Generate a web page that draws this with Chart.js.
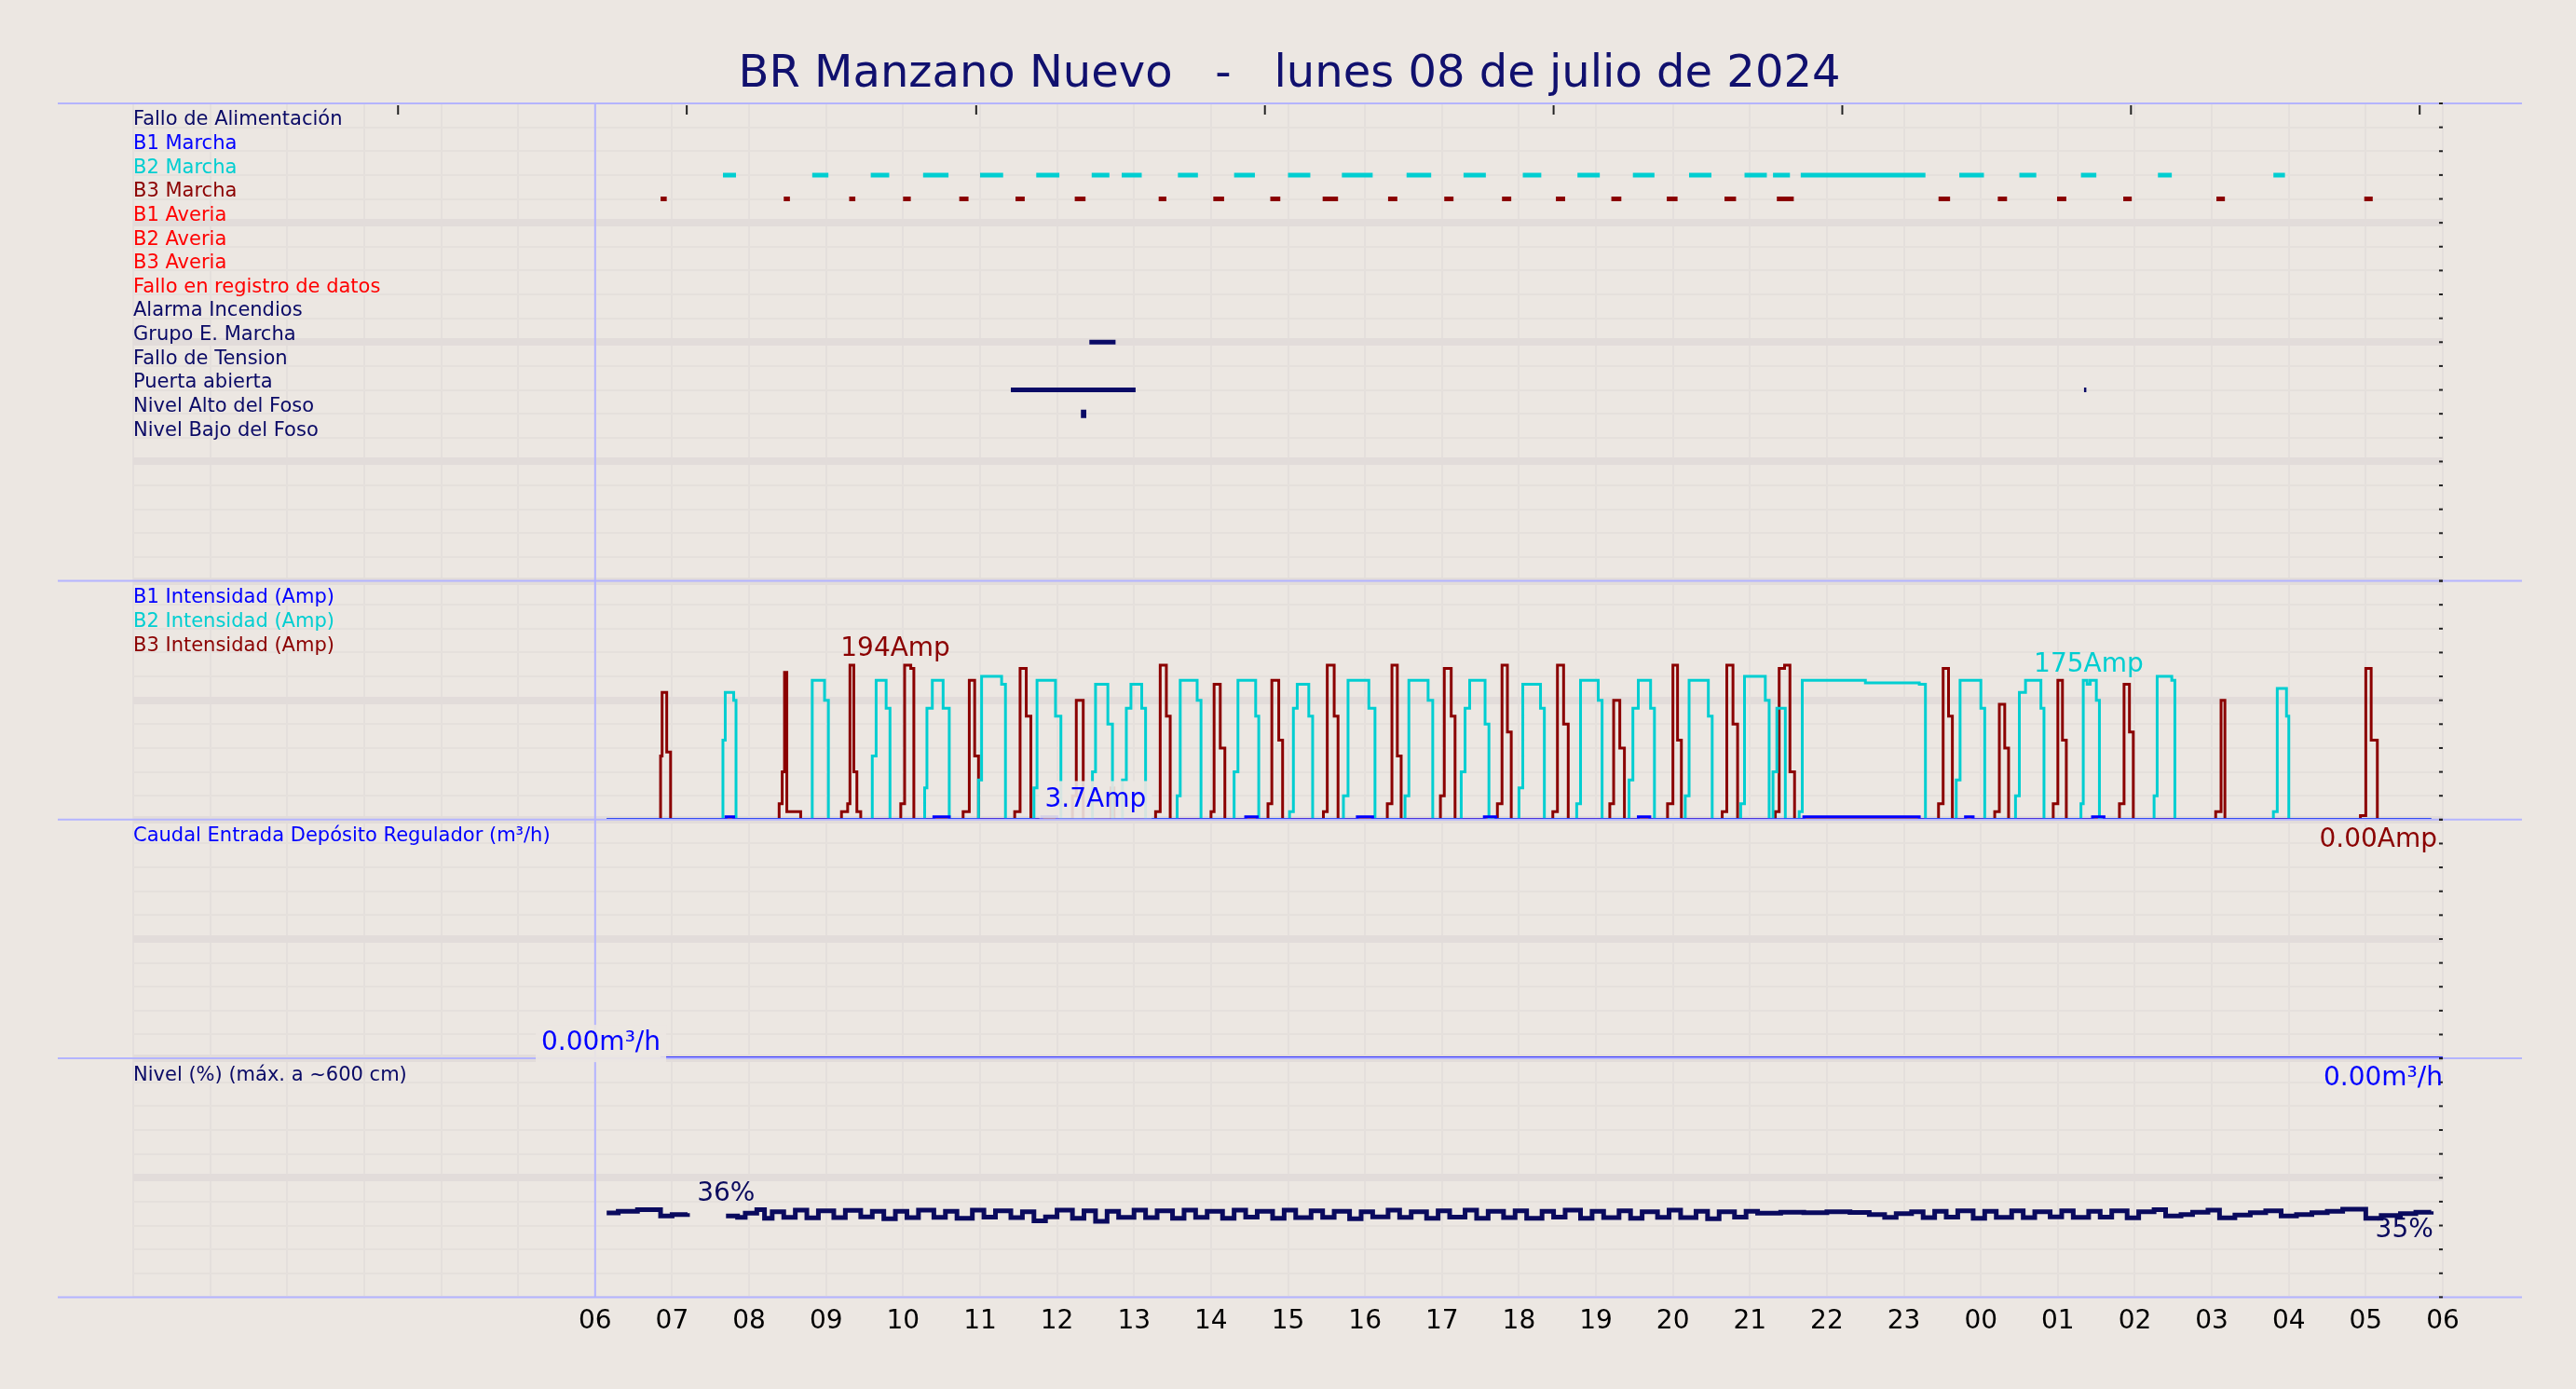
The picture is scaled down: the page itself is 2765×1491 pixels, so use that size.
<!DOCTYPE html>
<html><head><meta charset="utf-8">
<script src="https://cdn.jsdelivr.net/npm/chart.js@4.4.1/dist/chart.umd.min.js"></script>
<style>html,body{margin:0;padding:0;background:#ece7e2}#c{display:block}</style>
</head><body>
<div style="width:2765px;height:1491px"><canvas id="c"></canvas></div>
<script>
// hours from 06:00 (0) to 06:00 next day (24)
var hourLabels = ['06','07','08','09','10','11','12','13','14','15','16','17','18','19','20','21','22','23','00','01','02','03','04','05','06'];
var topTicks = [-2.56, 1.19, 4.95, 8.7, 12.45, 16.2, 19.95, 23.7];

var eventNames = ['Fallo de Alimentación','B1 Marcha','B2 Marcha','B3 Marcha','B1 Averia','B2 Averia','B3 Averia','Fallo en registro de datos','Alarma Incendios','Grupo E. Marcha','Fallo de Tension','Puerta abierta','Nivel Alto del Foso','Nivel Bajo del Foso'];
var eventColors = ['#0a0a66','#0000ff','#00ced1','#8b0000','#ff0000','#ff0000','#ff0000','#ff0000','#0a0a66','#0a0a66','#0a0a66','#0a0a66','#0a0a66','#0a0a66'];

// [start, end] in hours
var b2Marcha = [[1.66,1.83],[2.82,3.03],[3.58,3.82],[4.26,4.59],[5.0,5.3],[5.73,6.03],[6.45,6.68],[6.84,7.1],[7.57,7.83],[8.3,8.57],[9.0,9.29],[9.7,10.1],[10.54,10.86],[11.28,11.57],[12.05,12.29],[12.76,13.05],[13.48,13.76],[14.21,14.5],[14.93,15.22],[15.3,15.52],[15.66,17.28],[17.72,18.04],[18.5,18.72],[19.3,19.5],[20.3,20.48],[21.8,21.95]];
var b3Marcha = [[0.85,0.93],[2.45,2.53],[3.3,3.38],[4.0,4.1],[4.73,4.85],[5.46,5.58],[6.23,6.37],[7.32,7.42],[8.03,8.17],[8.77,8.9],[9.45,9.65],[10.3,10.42],[11.03,11.15],[11.78,11.9],[12.48,12.6],[13.2,13.33],[13.92,14.06],[14.67,14.82],[15.35,15.57],[17.45,17.6],[18.22,18.34],[18.99,19.11],[19.85,19.96],[21.06,21.17],[22.98,23.09]];
var grupoMarcha = [[6.42,6.76]];
var puertaAbierta = [[5.4,7.02],[19.34,19.37]];
var nivelAlto = [[6.31,6.38]];

var b3Amp = [[0.15,0],[0.85,80],[0.87,160],[0.93,85],[0.98,0],
 [2.39,20],[2.43,60],[2.46,185],[2.49,10],[2.67,0],
 [3.2,10],[3.28,20],[3.31,194],[3.36,60],[3.4,10],[3.45,0],
 [3.97,20],[4.02,194],[4.1,190],[4.14,0],
 [4.78,10],[4.86,175],[4.93,80],[4.98,0],
 [5.45,10],[5.52,190],[5.6,130],[5.66,0],
 [6.2,30],[6.25,150],[6.34,0],[6.7,40],[6.74,0],
 [7.28,10],[7.34,194],[7.42,130],[7.47,0],
 [8.0,10],[8.04,170],[8.12,90],[8.18,0],
 [8.74,20],[8.79,175],[8.88,100],[8.93,0],
 [9.46,10],[9.51,194],[9.6,130],[9.65,0],
 [10.29,20],[10.35,194],[10.42,80],[10.47,0],
 [10.98,30],[11.03,190],[11.12,130],[11.17,0],
 [11.72,20],[11.78,194],[11.85,110],[11.9,0],
 [12.44,10],[12.5,194],[12.58,120],[12.64,0],
 [13.18,20],[13.23,150],[13.31,90],[13.37,0],
 [13.93,20],[14.0,194],[14.06,100],[14.11,0],
 [14.64,10],[14.7,194],[14.78,120],[14.84,0],
 [15.33,10],[15.38,190],[15.45,194],[15.52,60],[15.58,0],
 [17.45,20],[17.51,190],[17.58,130],[17.63,0],
 [18.18,10],[18.24,145],[18.31,90],[18.36,0],
 [18.94,20],[19.0,175],[19.06,100],[19.11,0],
 [19.8,20],[19.86,170],[19.93,110],[19.98,0],
 [21.05,10],[21.12,150],[21.17,0],
 [22.93,5],[23.0,190],[23.07,100],[23.15,0],[23.85,0]];

var b2Amp = [[0.15,0],[1.66,100],[1.69,160],[1.8,150],[1.83,0],
 [2.82,175],[2.98,150],[3.03,0],
 [3.6,80],[3.65,175],[3.78,140],[3.83,0],
 [4.28,40],[4.31,140],[4.38,175],[4.52,140],[4.6,0],
 [4.98,50],[5.02,180],[5.28,170],[5.33,0],
 [5.7,40],[5.74,175],[5.98,130],[6.05,0],
 [6.46,60],[6.5,170],[6.66,120],[6.72,0],
 [6.85,50],[6.9,140],[6.96,170],[7.1,140],[7.15,0],
 [7.56,30],[7.6,175],[7.82,150],[7.87,0],
 [8.3,60],[8.35,175],[8.58,130],[8.62,0],
 [9.02,10],[9.07,140],[9.12,170],[9.27,130],[9.32,0],
 [9.72,30],[9.78,175],[10.05,140],[10.13,0],
 [10.52,30],[10.57,175],[10.82,150],[10.88,0],
 [11.25,60],[11.3,140],[11.36,175],[11.56,120],[11.61,0],
 [12.0,40],[12.05,170],[12.28,140],[12.33,0],
 [12.75,20],[12.8,175],[13.03,150],[13.08,0],
 [13.43,50],[13.48,140],[13.55,175],[13.71,140],[13.76,0],
 [14.16,30],[14.21,175],[14.46,130],[14.51,0],
 [14.88,20],[14.93,180],[15.2,150],[15.25,0],
 [15.3,60],[15.35,140],[15.46,0],
 [15.64,10],[15.68,175],[16.5,172],[17.2,170],[17.28,0],
 [17.68,50],[17.73,175],[18.0,140],[18.05,0],
 [18.45,30],[18.5,160],[18.58,175],[18.78,140],[18.82,0],
 [19.3,20],[19.33,175],[19.38,170],[19.42,175],[19.5,150],[19.54,0],
 [20.25,30],[20.29,180],[20.48,175],[20.52,0],
 [21.8,10],[21.85,165],[21.97,130],[22.0,0],[23.85,0]];

var b1Amp = [[0.15,0],[1.7,3.7],[1.8,0],[4.4,3.7],[4.6,0],[5.8,3.7],[6.0,0],[8.45,3.7],[8.6,0],[9.9,3.7],[10.1,0],[11.55,3.7],[11.7,0],[13.55,3.7],[13.7,0],[15.7,3.7],[17.2,0],[17.8,3.7],[17.9,0],[19.45,3.7],[19.6,0],[23.85,0]];

var caudal = [[0.85,0],[24,0]];

var nivel = [[0.15,35.3],[0.3,36.0],[0.55,36.6],[0.85,34.0],[1.0,34.6],[1.2,35.2],[1.4,null],
 [1.7,34.0],[1.85,33.4],[1.95,35.2],[2.1,36.6],[2.2,33.0],[2.3,35.8],[2.45,33.4],[2.6,36.4],[2.75,33.2],
 [2.9,36.2],[3.1,33.3],[3.25,36.3],[3.45,33.6],[3.6,36.0],[3.75,32.8],[3.9,36.0],[4.05,33.3],[4.2,36.4],
 [4.4,33.4],[4.55,36.0],[4.7,33.0],[4.9,36.4],[5.05,33.5],[5.2,36.2],[5.4,33.3],[5.55,35.8],[5.7,32.0],
 [5.85,33.6],[6.0,36.4],[6.2,33.0],[6.35,36.2],[6.5,31.8],[6.65,36.0],[6.8,33.4],[7.0,36.4],[7.15,33.3],
 [7.3,36.2],[7.5,33.0],[7.65,36.4],[7.8,33.4],[7.95,36.0],[8.15,33.0],[8.3,36.4],[8.45,33.5],[8.6,36.0],
 [8.8,33.0],[8.95,36.4],[9.1,33.3],[9.3,36.2],[9.45,33.4],[9.6,36.0],[9.8,32.8],[9.95,35.8],[10.1,33.6],
 [10.3,36.4],[10.45,33.4],[10.6,35.8],[10.8,33.0],[10.95,36.2],[11.1,33.5],[11.3,36.4],[11.45,33.0],
 [11.6,36.0],[11.8,33.3],[11.95,36.2],[12.1,33.0],[12.3,36.0],[12.45,33.5],[12.6,36.4],[12.8,33.0],
 [12.95,36.0],[13.1,33.3],[13.3,36.2],[13.45,33.0],[13.6,35.8],[13.8,33.4],[13.95,36.4],[14.1,33.3],
 [14.3,36.0],[14.45,32.8],[14.6,35.8],[14.8,33.5],[14.95,36.0],[15.1,35.2],[15.4,35.6],[15.7,35.4],
 [16.0,35.8],[16.3,35.5],[16.55,34.6],[16.75,33.4],[16.9,35.0],[17.1,35.8],[17.25,33.3],[17.4,36.0],
 [17.55,33.5],[17.7,36.2],[17.9,33.0],[18.05,36.0],[18.2,33.4],[18.4,36.2],[18.55,33.3],[18.7,35.8],
 [18.9,33.6],[19.05,36.2],[19.2,33.4],[19.4,36.0],[19.55,33.5],[19.7,36.2],[19.9,33.2],[20.05,35.8],
 [20.25,36.6],[20.4,34.0],[20.6,34.6],[20.75,35.6],[20.95,36.4],[21.1,33.2],[21.3,34.4],[21.5,35.4],
 [21.7,36.2],[21.9,34.0],[22.1,34.6],[22.3,35.4],[22.5,36.0],[22.7,36.8],[23.0,33.0],[23.2,34.2],
 [23.45,35.0],[23.65,35.6],[23.85,36.0]];

var ampNotes = [['194Amp', 3.9, 214, '#8b0000'], ['175Amp', 19.4, 195, '#00ced1']];

function pts(a) { return a.map(function (p) { return {x: p[0], y: p[1]}; }); }
function segs(list, row) {
  var out = [];
  list.forEach(function (s) { out.push({x: s[0], y: row}, {x: s[1], y: row}, {x: s[1], y: null}); });
  return out;
}
var ds = [];
function ev(list, row, color) {
  ds.push({data: segs(list, row), yAxisID: 'yEv', borderColor: color, borderWidth: 5, pointRadius: 0, spanGaps: false});
}
ev(b2Marcha, 3, '#00ced1');
ev(b3Marcha, 4, '#8b0000');
ev(grupoMarcha, 10, '#0a0a66');
ev(puertaAbierta, 12, '#0a0a66');
ev(nivelAlto, 13, '#0a0a66');
ds[4].borderWidth = 9;
function line(data, axis, color, w) {
  ds.push({data: pts(data), yAxisID: axis, borderColor: color, borderWidth: w, pointRadius: 0, stepped: true, spanGaps: false});
}
line(b1Amp, 'yAmp', '#0000ff', 3);
line(b2Amp, 'yAmp', '#00ced1', 3);
line(b3Amp, 'yAmp', '#8b0000', 3);
line(caudal, 'yQ', '#3333ff', 4);
line(nivel, 'yNiv', '#0a0a5e', 5);

var F = '"DejaVu Sans"';
function yAx(min, max, step, weight, rev) {
  return {stack: 'p', stackWeight: weight, min: min, max: max, reverse: !!rev, offset: false,
    ticks: {display: false, stepSize: step}, border: {display: false},
    grid: {drawTicks: false, color: function (c) { var v = Math.round(c.tick.value / step); return v % 5 === 0 ? '#e2dcda' : '#e5e0dc'; },
      lineWidth: function (c) { var v = Math.round(c.tick.value / step); return v % 5 === 0 && v !== 0 ? 8 : 2; }}};
}

var deco = {
  id: 'deco',
  beforeDraw: function (ch) {
    var c = ch.ctx; c.save(); c.fillStyle = '#ece7e2'; c.fillRect(0, 0, ch.width, ch.height); c.restore();
  },
  afterDatasetsDraw: function (ch) {
    var c = ch.ctx, x = ch.scales.x, ca = ch.chartArea;
    var ye = ch.scales.yEv, ya = ch.scales.yAmp, yq = ch.scales.yQ, yn = ch.scales.yNiv;
    c.save();
    // title
    c.fillStyle = '#10106e'; c.font = '48px ' + F; c.textAlign = 'center'; c.textBaseline = 'middle';
    c.fillText('BR Manzano Nuevo   -   lunes 08 de julio de 2024', 1384, 81);
    // panel borders
    c.strokeStyle = '#b4b4ff'; c.lineWidth = 2;
    [ye.top, ya.top, yq.top, yn.top, yn.bottom].forEach(function (y) { c.beginPath(); c.moveTo(62, y); c.lineTo(2707, y); c.stroke(); });
    c.beginPath(); c.moveTo(x.getPixelForValue(0), ca.top); c.lineTo(x.getPixelForValue(0), ca.bottom); c.stroke();
    // top ticks and right ticks
    c.strokeStyle = '#222'; c.lineWidth = 2;
    topTicks.forEach(function (h) { var px = x.getPixelForValue(h); c.beginPath(); c.moveTo(px, ca.top + 2); c.lineTo(px, ca.top + 12); c.stroke(); });
    [ye, ya, yq, yn].forEach(function (s) {
      s.ticks.forEach(function (t) { var py = s.getPixelForValue(t.value); c.beginPath(); c.moveTo(ca.right - 4, py); c.lineTo(ca.right, py); c.stroke(); });
    });
    // event names
    c.textAlign = 'left'; c.textBaseline = 'middle'; c.font = '21px ' + F;
    eventNames.forEach(function (n, i) { c.fillStyle = eventColors[i]; c.fillText(n, ca.left, ye.getPixelForValue(i + 0.7)); });
    // panel labels
    var lx = ca.left;
    c.fillStyle = '#0000ff'; c.fillText('B1 Intensidad (Amp)', lx, ya.top + 18);
    c.fillStyle = '#00ced1'; c.fillText('B2 Intensidad (Amp)', lx, ya.top + 44);
    c.fillStyle = '#8b0000'; c.fillText('B3 Intensidad (Amp)', lx, ya.top + 70);
    c.fillStyle = '#0000ff'; c.fillText('Caudal Entrada Depósito Regulador (m³/h)', lx, yq.top + 18);
    c.fillStyle = '#0a0a66'; c.fillText('Nivel (%) (máx. a ~600 cm)', lx, yn.top + 18);
    // value notes
    c.font = '28px ' + F;
    ampNotes.forEach(function (a) { c.fillStyle = a[3]; c.textAlign = 'center'; c.fillText(a[0], x.getPixelForValue(a[1]), ya.getPixelForValue(a[2])); });
    function boxText(t, px, py, col, align) {
      var w = c.measureText(t).width; var bx = align === 'right' ? px - w : (align === 'center' ? px - w / 2 : px);
      c.fillStyle = 'rgba(236,231,226,0.9)'; c.fillRect(bx - 6, py - 20, w + 12, 40);
      c.fillStyle = col; c.textAlign = align; c.fillText(t, px, py);
    }
    boxText('3.7Amp', x.getPixelForValue(6.5), ya.getPixelForValue(4) - 18, '#0000ff', 'center');
    c.textAlign = 'right'; c.fillStyle = '#8b0000';
    c.fillText('0.00Amp', ca.right - 6, ya.bottom + 22);
    boxText('0.00m³/h', x.getPixelForValue(0.85), yq.bottom - 16, '#0000ff', 'right');
    c.textAlign = 'right'; c.fillStyle = '#0000ff';
    c.fillText('0.00m³/h', ca.right, yq.bottom + 22);
    c.textAlign = 'center'; c.fillStyle = '#0a0a5e';
    c.fillText('36%', x.getPixelForValue(1.7), yn.getPixelForValue(43));
    c.fillText('35%', x.getPixelForValue(23.5), yn.getPixelForValue(28));
    c.restore();
  }
};

new Chart(document.getElementById('c'), {
  type: 'line',
  data: {datasets: ds},
  options: {
    responsive: true, maintainAspectRatio: false, animation: false,
    layout: {padding: {left: 143, right: 143, top: 111, bottom: 45}},
    plugins: {legend: {display: false}, tooltip: {enabled: false}},
    scales: {
      x: {type: 'linear', min: -6, max: 24,
        ticks: {stepSize: 1, color: '#000', font: {size: 28, family: 'DejaVu Sans'}, padding: 10, maxRotation: 0, autoSkip: false,
          callback: function (v) { return v >= 0 ? hourLabels[v] : ''; }},
        border: {display: false},
        grid: {color: '#e4dfdc', lineWidth: 2, drawTicks: false}},
      yNiv: yAx(0, 100, 10, 1),
      yQ: yAx(0, 10, 1, 1),
      yAmp: yAx(0, 300, 30, 1),
      yEv: yAx(0, 20, 1, 2, true)
    }
  },
  plugins: [deco]
});
</script>
</body></html>
